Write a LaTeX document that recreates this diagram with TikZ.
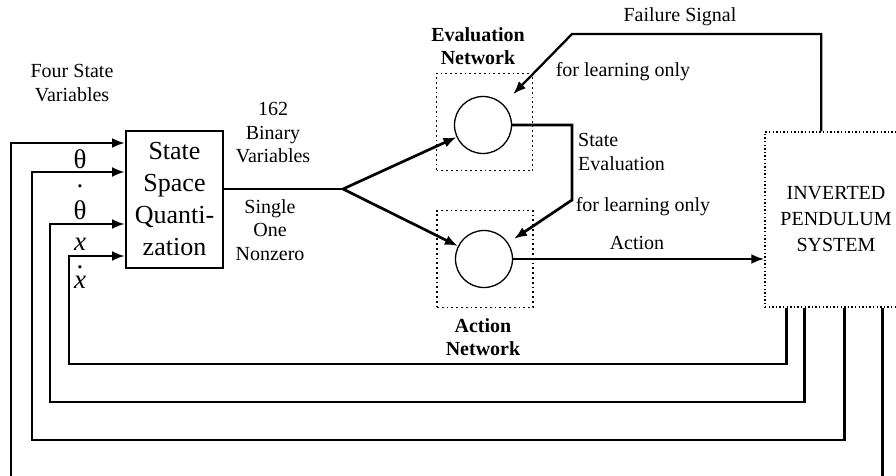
\documentclass[tikz,border=0pt]{standalone}
\usepackage{fontspec}
\setmainfont{Liberation Serif}
\usetikzlibrary{arrows.meta}

\begin{document}
\begin{tikzpicture}[
  x=1pt,y=-1pt,
  every node/.style={font=\fontsize{20}{23.5}\selectfont,align=center,inner sep=0pt},
  sig/.style={line width=2.7pt},
  flow/.style={sig,-{Latex[length=13pt,width=10pt]}},
  quantbox/.style={draw,line width=2pt,minimum width=97pt,minimum height=137pt,
                   font=\fontsize{26}{32}\selectfont},
  netbox/.style={draw,line width=1.8pt,dash pattern=on 1.8pt off 3pt,
                 minimum width=96pt,minimum height=97pt},
  neuron/.style={draw,circle,line width=1.3pt,minimum size=57pt},
  plantbox/.style={draw,line width=1.4pt,dash pattern=on 1.4pt off 2.2pt,
                   minimum width=142pt,minimum height=175pt,
                   font=\fontsize{20}{26}\selectfont},
  netlabel/.style={font=\bfseries\fontsize{20}{23.5}\selectfont},
  statevar/.style={font=\fontsize{27}{19}\selectfont}
]
  \useasboundingbox (0,0) rectangle (896,476);
  \clip (0,0) rectangle (896,476);

  \node[quantbox] (quant) at (174.5,199.5) {State\\Space\\Quanti-\\zation};
  \node[netbox] (evalbox) at (484.5,122) {};
  \node[neuron] (evalc) at (483,125) {};
  \node[netbox] (actbox) at (485,259) {};
  \node[neuron] (actc) at (484,259) {};
  \node[plantbox] (pend) at (836,219.5) {INVERTED\\PENDULUM\\SYSTEM};

  \node (fourvar) at (72,83) {Four State\\Variables};
  \node (binvar) at (273,133) {162\\Binary\\Variables};
  \node (single) at (270,230) {Single\\One\\Nonzero};
  \node[netlabel] (evallab) at (478,46) {Evaluation\\Network};
  \node[netlabel] (actlab) at (483,337) {Action\\Network};
  \node (faillab) at (680,17) {Failure Signal};
  \node (learnone) at (623,72) {for learning only};
  \node[align=left,anchor=west] (stateval) at (578,152) {State\\Evaluation};
  \node (learntwo) at (643,207) {for learning only};
  \node (actword) at (637,243) {Action};

  % state variables fed back (dots on their own lines)
  \node[statevar,anchor=north] (statevars) at (80,149)
    {\lineskiplimit=-100pt θ\\.\\[12pt]θ\\[12pt]{\itshape x}\\[-1pt].\\[1pt]{\itshape x}};

  \coordinate (fork) at (343,189);
  \coordinate (failbend) at (572,34);
  \coordinate (evalbend) at (572,200);

  \draw[sig] (quant.east |- fork) -- (fork);
  \draw[flow] (fork) -- (evalc);
  \draw[flow] (fork) -- (actc);
  \draw[flow] (actc.east) -- (actc.east -| pend.west);
  \draw[flow,line width=2.3pt,shorten >=14pt] ([xshift=57pt]pend.north west) |- (failbend) -- (evalc);
  \draw[flow,shorten >=7pt] (evalc.east) -| (evalbend) -- (actc);

  % feedback loops
  \draw[flow] ([xshift=22pt]pend.south west) |- (69,364) |- ([yshift=-126pt]quant.north west);
  \draw[flow] ([xshift=40pt]pend.south west) |- (50,402) |- ([yshift=-94pt]quant.north west);
  \draw[flow] ([xshift=80pt]pend.south west) |- (32,440) |- ([yshift=-42pt]quant.north west);
  \draw[flow] ([xshift=118pt]pend.south west) |- (11,490) |- ([yshift=-13pt]quant.north west);
\end{tikzpicture}
\end{document}
